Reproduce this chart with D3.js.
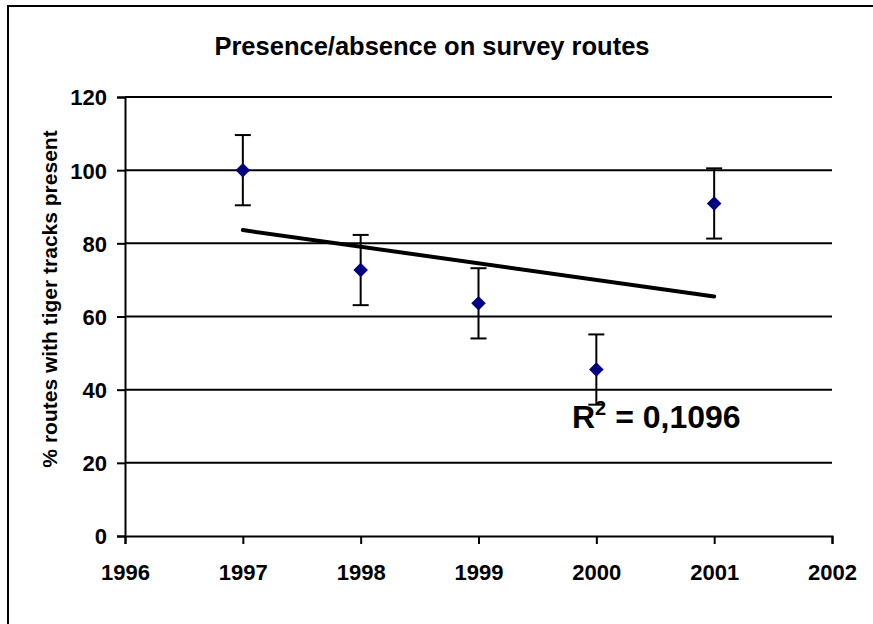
<!DOCTYPE html>
<html lang="en">
<head>
  <meta charset="UTF-8">
  <title>Presence/absence on survey routes</title>
  <script src="https://cdn.jsdelivr.net/npm/d3@7/dist/d3.min.js"></script>
  <style>
    html, body {
      margin: 0;
      padding: 0;
      background: #fff;
    }
    svg {
      display: block;
      font-family: Arial, 'Liberation Sans', sans-serif;
      font-weight: bold;
    }
  </style>
</head>
<body>
  <svg width="873" height="624"></svg>

  <script>
    // data
    const years = [1997, 1998, 1999, 2000, 2001]
    const presence = [100, 72.7, 63.6, 45.5, 90.9]
    const errors = [9.6, 9.6, 9.6, 9.6, 9.6]
    const xTicks = [1996, 1997, 1998, 1999, 2000, 2001, 2002]
    const yTicks = [0, 20, 40, 60, 80, 100, 120]

    const svg = d3.select('svg')

    // frame (right and bottom run off the picture)
    svg.append('rect')
      .attr('x', 8)
      .attr('y', 6)
      .attr('width', 900)
      .attr('height', 700)
      .attr('fill', 'none')
      .attr('stroke', '#000')
      .attr('stroke-width', 2)

    const x = d3.scaleLinear().domain([1996, 2002]).range([125, 832])
    const y = d3.scaleLinear().domain([0, 120]).range([536, 97])

    // gridlines
    svg.append('g')
      .selectAll('line')
      .data(yTicks.filter(d => d > 0))
      .enter()
      .append('line')
      .attr('x1', x(1996))
      .attr('x2', x(2002))
      .attr('y1', d => y(d))
      .attr('y2', d => y(d))
      .attr('stroke', '#000')
      .attr('stroke-width', 2)

    // axes
    const yAxis = svg.append('g')
      .attr('transform', `translate(${x(1996)},0)`)
      .call(d3.axisLeft(y).tickValues(yTicks).tickSize(8).tickPadding(10).tickFormat(d3.format('d')))
    const xAxis = svg.append('g')
      .attr('transform', `translate(0,${y(0)})`)
      .call(d3.axisBottom(x).tickValues(xTicks).tickSize(8).tickPadding(20).tickFormat(d3.format('d')))

    ;[yAxis, xAxis].forEach(ax => {
      ax.select('.domain').attr('stroke', '#000').attr('stroke-width', 2)
      ax.selectAll('.tick line').attr('stroke', '#000').attr('stroke-width', 2)
      ax.selectAll('.tick text')
        .attr('fill', '#000')
        .style('font-size', '22px')
        .style('font-family', 'Arial, "Liberation Sans", sans-serif')
        .style('font-weight', 'bold')
    })
    yAxis.selectAll('.tick text').attr('dy', '0.36em')

    // linear trend (least squares, as the spreadsheet does)
    const mx = d3.mean(years)
    const my = d3.mean(presence)
    const slope = d3.sum(years, (v, i) => (v - mx) * (presence[i] - my)) /
      d3.sum(years, v => (v - mx) * (v - mx))
    const icpt = my - slope * mx
    const first = years[0]
    const last = years[years.length - 1]

    svg.append('line')
      .attr('x1', x(first))
      .attr('y1', y(icpt + slope * first))
      .attr('x2', x(last))
      .attr('y2', y(icpt + slope * last))
      .attr('stroke', '#000')
      .attr('stroke-width', 4)
      .attr('stroke-linecap', 'round')

    // error bars
    const bars = svg.append('g')
      .selectAll('g')
      .data(years)
      .enter()
      .append('g')
      .attr('stroke', '#000')
      .attr('stroke-width', 2)
    bars.append('line')
      .attr('x1', d => x(d))
      .attr('x2', d => x(d))
      .attr('y1', (d, i) => y(presence[i] + errors[i]))
      .attr('y2', (d, i) => y(presence[i] - errors[i]))
    bars.append('line')
      .attr('x1', d => x(d) - 8)
      .attr('x2', d => x(d) + 8)
      .attr('y1', (d, i) => y(presence[i] + errors[i]))
      .attr('y2', (d, i) => y(presence[i] + errors[i]))
    bars.append('line')
      .attr('x1', d => x(d) - 8)
      .attr('x2', d => x(d) + 8)
      .attr('y1', (d, i) => y(presence[i] - errors[i]))
      .attr('y2', (d, i) => y(presence[i] - errors[i]))

    // markers
    svg.append('g')
      .selectAll('path')
      .data(years)
      .enter()
      .append('path')
      .attr('d', d3.symbol().type(d3.symbolDiamond2).size(135))
      .attr('transform', (d, i) => `translate(${x(d)},${y(presence[i])})`)
      .attr('fill', '#000080')

    // R squared label
    const rText = svg.append('text')
      .attr('x', 572)
      .attr('y', 428)
      .style('font-size', '32px')
      .attr('fill', '#000')
    rText.append('tspan').text('R')
    rText.append('tspan')
      .attr('dy', -13)
      .style('font-size', '20px')
      .text('2')
    rText.append('tspan')
      .attr('dy', 13)
      .text(' = 0,1096')

    // title
    svg.append('text')
      .attr('x', 432)
      .attr('y', 55)
      .attr('text-anchor', 'middle')
      .style('font-size', '25.5px')
      .text('Presence/absence on survey routes')

    // y axis label
    svg.append('text')
      .attr('transform', 'translate(57,299) rotate(-90)')
      .attr('text-anchor', 'middle')
      .style('font-size', '21px')
      .text('% routes with tiger tracks present')
  </script>
</body>
</html>
